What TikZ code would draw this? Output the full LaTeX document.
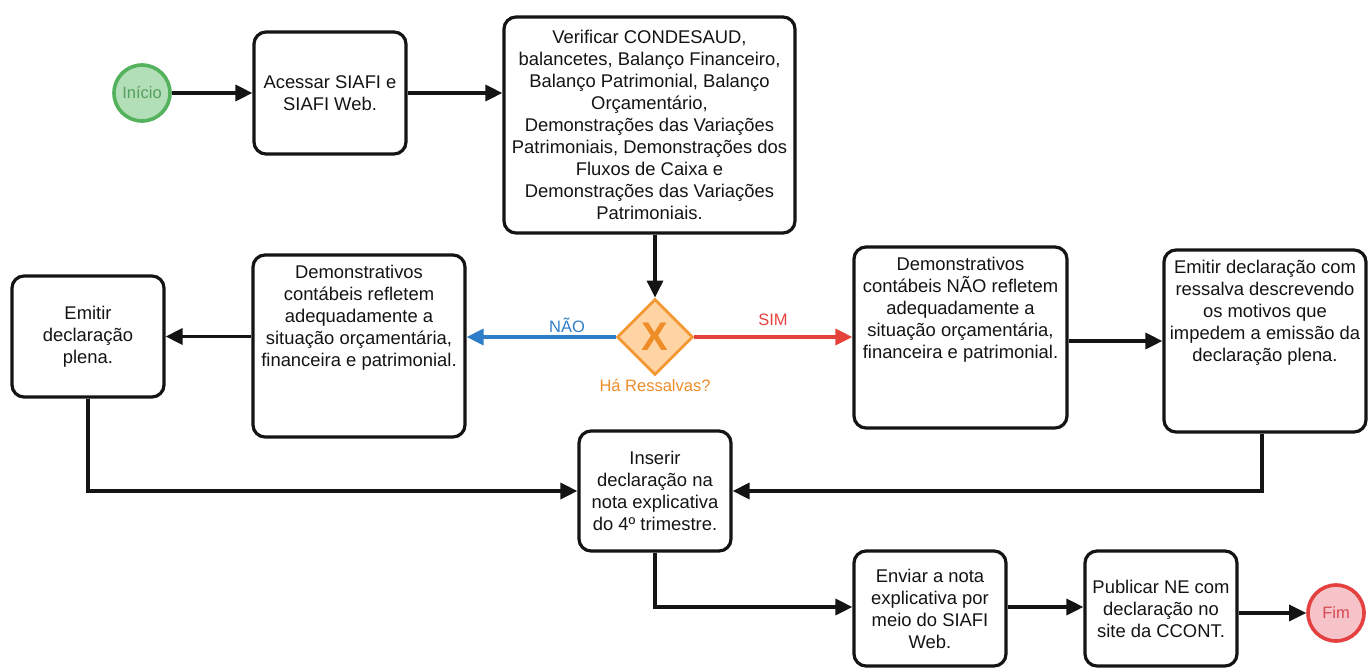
\documentclass[tikz,border=0pt]{standalone}
\usepackage{fontspec}
\setmainfont{Liberation Sans}
\usetikzlibrary{arrows.meta,shapes.geometric}
\definecolor{startfill}{RGB}{178,222,184}
\definecolor{startline}{RGB}{84,178,92}
\definecolor{starttext}{RGB}{84,160,92}
\definecolor{endfill}{RGB}{246,196,200}
\definecolor{endline}{RGB}{228,64,64}
\definecolor{endtext}{RGB}{214,72,80}
\definecolor{gwfill}{RGB}{255,212,164}
\definecolor{gwline}{RGB}{244,152,52}
\definecolor{gwtext}{RGB}{238,140,40}
\definecolor{noline}{RGB}{45,125,200}
\definecolor{yesline}{RGB}{230,66,60}
\definecolor{ink}{RGB}{20,20,20}

\begin{document}
\begin{tikzpicture}[x=1pt,y=-1pt,
  task/.style={draw=ink, line width=3.2pt, rounded corners=12pt, fill=white, inner sep=0pt,
    font=\fontsize{18.4}{22}\selectfont, align=center, text=ink},
  txt/.style={font=\fontsize{18.4}{22}\selectfont, align=center, inner sep=0pt, text=ink},
  tip/.style={-{Triangle[length=17pt,width=16pt,fill=#1]}},
  flow/.style={line width=3.2pt, draw=ink, tip=ink},
  event/.style={circle, minimum size=56pt, inner sep=0pt, line width=3.6pt,
    font=\fontsize{16.5}{20}\selectfont},
  lbl/.style={font=\fontsize{16.5}{20}\selectfont, inner sep=0pt}
]
\useasboundingbox[fill=white] (0,0) rectangle (1369,669);

% events
\node[event, draw=startline, fill=startfill, text=starttext] (ini) at (142,93) {Início};
\node[event, draw=endline, fill=endfill, text=endtext] (fim) at (1336,613) {Fim};

% tasks with centred text
\node[task, minimum width=152pt, minimum height=122pt] (acc) at (330,93)
  {Acessar SIAFI e\\SIAFI Web.};
\node[task, minimum width=291pt, minimum height=216pt] (ver) at (649.5,125)
  {Verificar CONDESAUD,\\balancetes, Balanço Financeiro,\\Balanço Patrimonial, Balanço\\Orçamentário,\\Demonstrações das Variações\\Patrimoniais, Demonstrações dos\\Fluxos de Caixa e\\Demonstrações das Variações\\Patrimoniais.};
\node[task, minimum width=152pt, minimum height=121pt] (plena) at (88,336.5)
  {Emitir\\declaração\\plena.};
\node[task, minimum width=152pt, minimum height=120pt] (ins) at (655,491)
  {Inserir\\declaração na\\nota explicativa\\do 4º trimestre.};
\node[task, minimum width=152pt, minimum height=115pt] (env) at (930,608.5)
  {Enviar a nota\\explicativa por\\meio do SIAFI\\Web.};
\node[task, minimum width=152pt, minimum height=115pt] (pub) at (1161,608.5)
  {Publicar NE com\\declaração no\\site da CCONT.};

% tasks with text set at the top
\node[task, minimum width=212pt, minimum height=182pt] (dl) at (359,346) {};
\node[txt, anchor=north] (dltxt) at ([yshift=-12pt]dl.north)
  {Demonstrativos\\contábeis refletem\\adequadamente a\\situação orçamentária,\\financeira e patrimonial.};
\node[task, minimum width=213pt, minimum height=181pt] (dr) at (960.5,337.5) {};
\node[txt, anchor=north] (drtxt) at ([yshift=-12pt]dr.north)
  {Demonstrativos\\contábeis NÃO refletem\\adequadamente a\\situação orçamentária,\\financeira e patrimonial.};
\node[task, minimum width=202pt, minimum height=182pt] (ress) at (1265,341) {};
\node[txt, anchor=north] (resstxt) at ([yshift=-12pt]ress.north)
  {Emitir declaração com\\ressalva descrevendo\\os motivos que\\impedem a emissão da\\declaração plena.};

% exclusive gateway
\node[diamond, draw=gwline, fill=gwfill, line width=2.8pt, minimum width=76pt, minimum height=76pt,
  inner sep=0pt, text=gwtext, font=\fontsize{40}{40}\selectfont\bfseries] (gw) at (655,337) {X};
\node[lbl, text=gwtext] (gwlbl) at (655,386) {Há Ressalvas?};

% sequence flows
\draw[flow] (ini) -- (acc);
\draw[flow] (acc) -- (ver.west |- acc);
\draw[flow] (ver.south -| gw) -- (gw.north);
\draw[flow, draw=noline, tip=noline] (gw.west) -- (dl.east |- gw);
\node[lbl, text=noline] (nao) at (567,325) {NÃO};
\draw[flow, draw=yesline, tip=yesline] (gw.east) -- (dr.west |- gw);
\node[lbl, text=yesline] (sim) at (773,320) {SIM};
\draw[flow] (dl.west |- plena) -- (plena.east);
\draw[flow] (dr.east |- ress) -- (ress.west);
\draw[flow] (plena.south) |- (ins.west);
\draw[flow] ([xshift=-3pt]ress.south) |- (ins.east);
\draw[flow] (ins.south) |- ([yshift=1.5pt]env.west);
\draw[flow] ([yshift=1.5pt]env.east) -- ([yshift=1.5pt]pub.west);
\draw[flow] (pub.east |- fim) -- (fim);
\end{tikzpicture}
\end{document}
